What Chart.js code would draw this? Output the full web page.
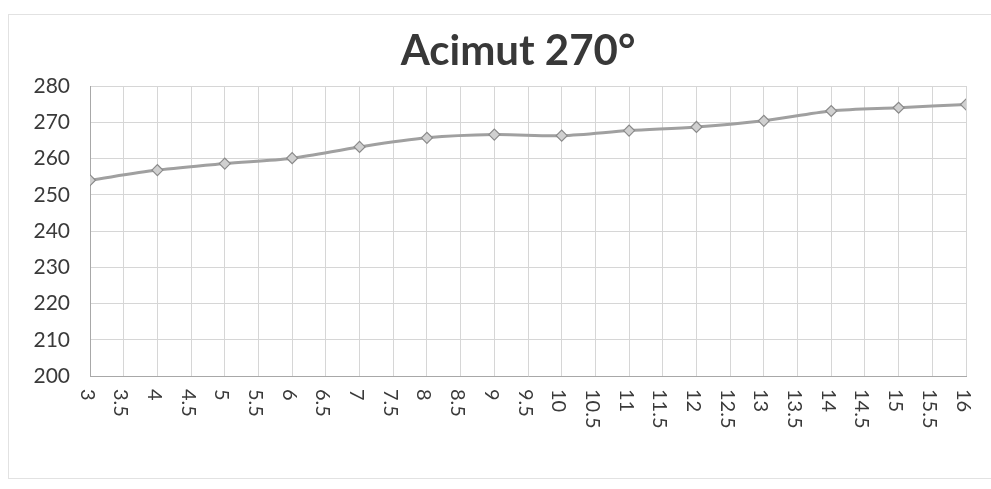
<!DOCTYPE html>
<html>
<head>
<meta charset="utf-8">
<script src="https://cdn.jsdelivr.net/npm/chart.js@4/dist/chart.umd.min.js"></script>
<style>
  html, body { margin: 0; padding: 0; background: #fff; }
  #wrap { width: 991px; height: 489px; }
</style>
</head>
<body>
<div id="wrap"><canvas id="chart-acimut" width="991" height="489"></canvas></div>
<script>
// ── DATOS ─────────────────────────────────────────────────────
const TITULO = 'Acimut 270°';
const distancias = [3, 4, 5, 6, 7, 8, 9, 10, 11, 12, 13, 14, 15, 16];
const acimut = [254.0, 256.8, 258.6, 260.1, 263.2, 265.7, 266.6, 266.3, 267.7, 268.7, 270.4, 273.1, 274.0, 274.9];
const ejeY = { min: 200, max: 280, paso: 10 };
const ejeX = { min: 3, max: 16, paso: 0.5 };

const FUENTE = 'Lato';
const GRIS_TEXTO = '#3a3a3a';

// ── PLUGINS ───────────────────────────────────────────────────
// fondo y marco tenue del gráfico
const marco = {
    id: 'marco',
    beforeDraw(chart) {
        const { ctx } = chart;
        ctx.save();
        ctx.fillStyle = '#fff';
        ctx.fillRect(0, 0, chart.width, chart.height);
        ctx.strokeStyle = '#e2e2e2';
        ctx.lineWidth = 1;
        ctx.strokeRect(8.5, 14.5, 990, 464);
        ctx.restore();
    },
};

// título y etiquetas del eje X giradas en sentido horario
const textos = {
    id: 'textos',
    afterDraw(chart) {
        const { ctx } = chart;
        const x = chart.scales.x;
        ctx.save();
        ctx.fillStyle = '#383838';
        ctx.font = `bold 42px ${FUENTE}`;
        ctx.textAlign = 'center';
        ctx.textBaseline = 'alphabetic';
        ctx.fillText(TITULO, 518, 65);

        ctx.fillStyle = GRIS_TEXTO;
        ctx.font = `20px ${FUENTE}`;
        ctx.textAlign = 'left';
        ctx.textBaseline = 'middle';
        x.ticks.forEach(t => {
            const px = x.getPixelForValue(t.value) - 3;
            ctx.save();
            ctx.translate(px, chart.chartArea.bottom + 13);
            ctx.rotate(Math.PI / 2);
            ctx.fillText(String(t.value), 0, 0);
            ctx.restore();
        });
        ctx.restore();
    },
};

// ── GRÁFICA ───────────────────────────────────────────────────
const rejilla = {
    color: '#d6d6d6',
    lineWidth: 1,
    drawTicks: false,
};

new Chart(document.getElementById('chart-acimut'), {
    type: 'line',
    data: {
        datasets: [{
            data: distancias.map((d, i) => ({ x: d, y: acimut[i] })),
            borderColor: '#a0a0a0',
            borderWidth: 3,
            tension: 0.3,
            pointStyle: 'rectRot',
            pointRadius: 5.5,
            pointBackgroundColor: '#d0d0d0',
            pointBorderColor: '#8a8a8a',
            pointBorderWidth: 1.2,
            fill: false,
        }],
    },
    options: {
        responsive: false,
        animation: false,
        layout: { padding: { top: 86, right: 25, left: 0, bottom: 0 } },
        plugins: {
            legend: { display: false },
            title: { display: false },
            tooltip: { enabled: false },
        },
        scales: {
            x: {
                type: 'linear',
                min: ejeX.min,
                max: ejeX.max,
                ticks: { stepSize: ejeX.paso, display: false },
                grid: rejilla,
                border: { color: '#a8a8a8', width: 1 },
                afterFit: s => { s.height = 113; },
            },
            y: {
                min: ejeY.min,
                max: ejeY.max,
                ticks: {
                    stepSize: ejeY.paso,
                    padding: 20,
                    color: GRIS_TEXTO,
                    font: { family: FUENTE, size: 21 },
                },
                grid: rejilla,
                border: { color: '#a8a8a8', width: 1 },
                afterFit: s => { s.width = 90; },
            },
        },
    },
    plugins: [marco, textos],
});
</script>
</body>
</html>
